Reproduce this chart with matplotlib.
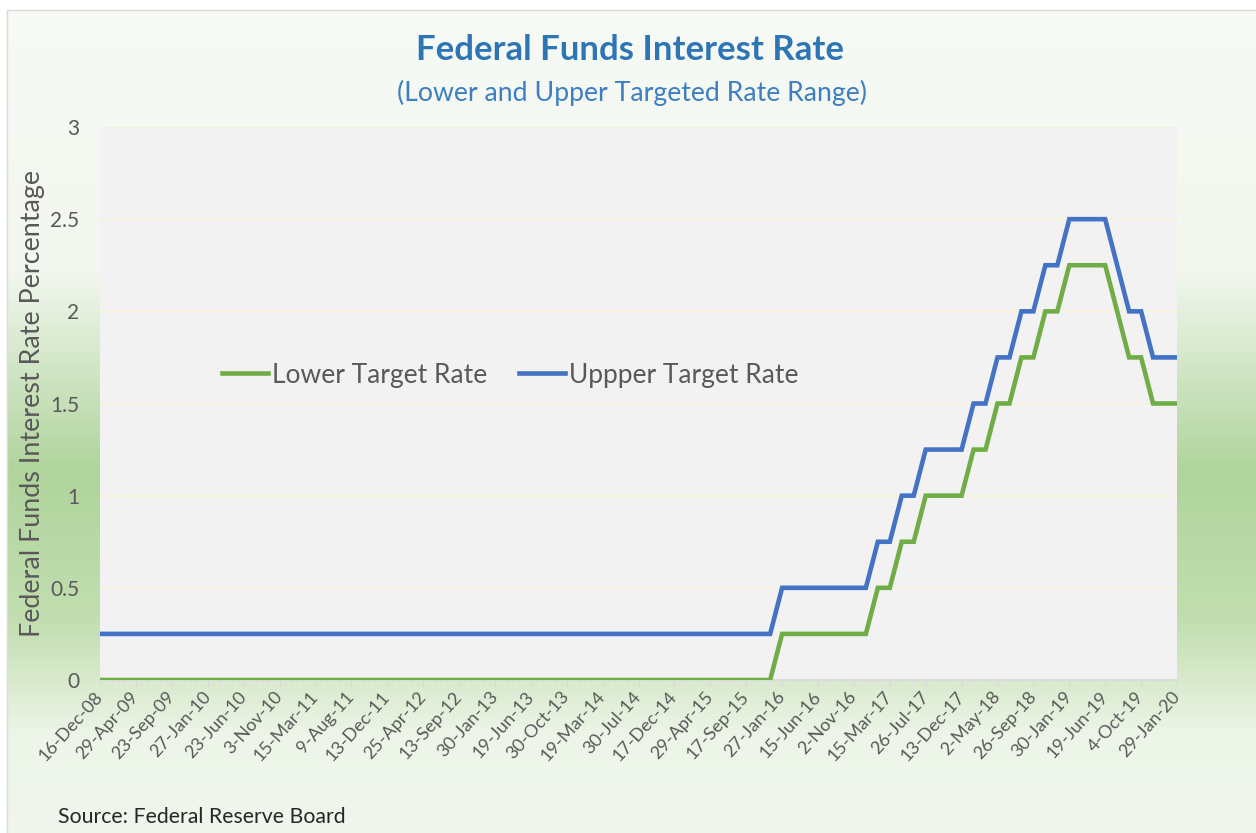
import matplotlib
matplotlib.use("Agg")
import matplotlib.pyplot as plt
import matplotlib.patches as patches
import numpy as np

plt.rcParams["font.family"] = ["Lato", "DejaVu Sans"]

# one point per FOMC meeting, a label on every third one
tick_labels = [
    "16-Dec-08", "29-Apr-09", "23-Sep-09", "27-Jan-10", "23-Jun-10", "3-Nov-10",
    "15-Mar-11", "9-Aug-11", "13-Dec-11", "25-Apr-12", "13-Sep-12", "30-Jan-13",
    "19-Jun-13", "30-Oct-13", "19-Mar-14", "30-Jul-14", "17-Dec-14", "29-Apr-15",
    "17-Sep-15", "27-Jan-16", "15-Jun-16", "2-Nov-16", "15-Mar-17", "26-Jul-17",
    "13-Dec-17", "2-May-18", "26-Sep-18", "30-Jan-19", "19-Jun-19", "4-Oct-19",
    "29-Jan-20",
]

lower = [
    0.0, 0.0, 0.0, 0.0, 0.0, 0.0, 0.0, 0.0, 0.0, 0.0, 0.0, 0.0, 0.0, 0.0, 0.0,
    0.0, 0.0, 0.0, 0.0, 0.0, 0.0, 0.0, 0.0, 0.0, 0.0, 0.0, 0.0, 0.0, 0.0, 0.0,
    0.0, 0.0, 0.0, 0.0, 0.0, 0.0, 0.0, 0.0, 0.0, 0.0, 0.0, 0.0, 0.0, 0.0, 0.0,
    0.0, 0.0, 0.0, 0.0, 0.0, 0.0, 0.0, 0.0, 0.0, 0.0, 0.0, 0.0, 0.25, 0.25, 0.25,
    0.25, 0.25, 0.25, 0.25, 0.25, 0.5, 0.5, 0.75, 0.75, 1.0, 1.0, 1.0, 1.0, 1.25, 1.25,
    1.5, 1.5, 1.75, 1.75, 2.0, 2.0, 2.25, 2.25, 2.25, 2.25, 2.0, 1.75, 1.75, 1.5, 1.5, 1.5,
]

upper = [
    0.25, 0.25, 0.25, 0.25, 0.25, 0.25, 0.25, 0.25, 0.25, 0.25, 0.25, 0.25, 0.25, 0.25, 0.25,
    0.25, 0.25, 0.25, 0.25, 0.25, 0.25, 0.25, 0.25, 0.25, 0.25, 0.25, 0.25, 0.25, 0.25, 0.25,
    0.25, 0.25, 0.25, 0.25, 0.25, 0.25, 0.25, 0.25, 0.25, 0.25, 0.25, 0.25, 0.25, 0.25, 0.25,
    0.25, 0.25, 0.25, 0.25, 0.25, 0.25, 0.25, 0.25, 0.25, 0.25, 0.25, 0.25, 0.5, 0.5, 0.5,
    0.5, 0.5, 0.5, 0.5, 0.5, 0.75, 0.75, 1.0, 1.0, 1.25, 1.25, 1.25, 1.25, 1.5, 1.5,
    1.75, 1.75, 2.0, 2.0, 2.25, 2.25, 2.5, 2.5, 2.5, 2.5, 2.25, 2.0, 2.0, 1.75, 1.75, 1.75,
]

W, H = 1256, 833
fig = plt.figure(figsize=(W / 100, H / 100), dpi=100)
fig.patch.set_facecolor("white")

# chart-area fill: pale at top and bottom, green band in the middle
stops_y = [0, 270, 470, 620, 735, 833]
stops_c = ["#f7faf5", "#f2f7ef", "#b0d49c", "#c2deb0", "#edf5e8", "#f1f6ee"]
rgb = np.array([matplotlib.colors.to_rgb(c) for c in stops_c])
rows = np.arange(H)
grad = np.stack([np.interp(rows, stops_y, rgb[:, k]) for k in range(3)], axis=1)
bg = fig.add_axes([7 / W, 0, 1 - 7 / W, 1 - 10 / H], zorder=-2)
bg.imshow(grad[10:, None, :], aspect="auto", extent=[0, 1, 0, 1])
bg.axis("off")
fig.patches.append(patches.Rectangle((7 / W, -0.01), 1.1, 1 - 10 / H + 0.01,
                                     transform=fig.transFigure, fill=False,
                                     edgecolor="#d9d9d9", lw=1))

ax = fig.add_axes([100 / W, 1 - 680 / H, 1077 / W, 553 / H])
ax.set_facecolor("#f2f2f2")

x = np.arange(len(upper))
ax.plot(x, lower, color="#70ad47", lw=3.3, label="Lower Target Rate", solid_joinstyle="miter", zorder=3)
ax.plot(x, upper, color="#4472c4", lw=3.3, label="Uppper Target Rate", solid_joinstyle="miter", zorder=3)

ax.set_xlim(0, len(upper) - 1)
ax.set_ylim(0, 3)
ax.set_yticks(np.arange(0, 3.01, 0.5))
ax.set_yticklabels(["0", "0.5", "1", "1.5", "2", "2.5", "3"])
ax.grid(axis="y", color="#f7f0dc", lw=1.2, zorder=1)
ax.set_axisbelow(True)

ax.set_xticks(x[::3])
ax.set_xticks(x, minor=True)
ax.set_xticklabels(tick_labels, rotation=48, ha="right", va="center", rotation_mode="anchor")

for s in ["top", "right", "left"]:
    ax.spines[s].set_visible(False)
ax.spines["bottom"].set_color("#d9d9d9")
ax.spines["bottom"].set_linewidth(1.2)
ax.tick_params(axis="y", length=0, pad=15, labelsize=15, labelcolor="#595959")
ax.tick_params(axis="x", which="major", length=4, color="#d9d9d9", pad=6,
               labelsize=13, labelcolor="#595959")
ax.tick_params(axis="x", which="minor", length=3, color="#d9d9d9")

ax.set_ylabel("Federal Funds Interest Rate Percentage", fontsize=19.4, color="#595959", va="center")
ax.yaxis.set_label_coords(-67 / 1077, 0.5)

ax.legend(loc="center left", bbox_to_anchor=(0.113, 0.5515), ncol=2, frameon=False,
          fontsize=19, labelcolor="#595959", handlelength=1.75, handletextpad=0.15,
          columnspacing=1.2, borderaxespad=0, borderpad=0)

fig.text(630 / W, 1 - 50 / H, "Federal Funds Interest Rate", ha="center", va="center",
         fontsize=25, fontweight="bold", color="#2e75b6")
fig.text(632 / W, 1 - 93 / H, "(Lower and Upper Targeted Rate Range)", ha="center", va="center",
         fontsize=19.2, color="#3d7fc0")
fig.text(58 / W, 1 - 817 / H, "Source: Federal Reserve Board", ha="left", va="center",
         fontsize=15.3, color="#262626")

fig.savefig("out.png", dpi=100)
